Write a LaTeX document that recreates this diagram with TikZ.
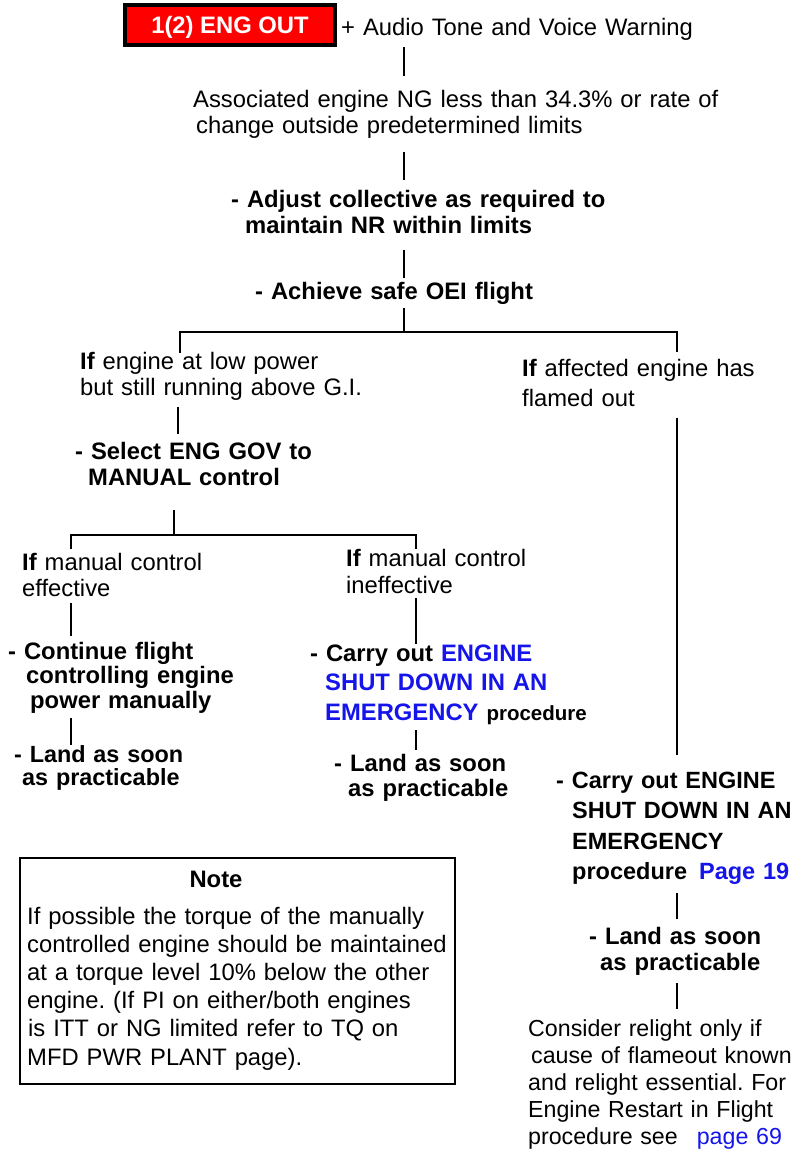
\documentclass[tikz,border=0pt]{standalone}
\usepackage{fontspec}
\setmainfont{Liberation Sans}
\usetikzlibrary{calc}
\definecolor{warnred}{RGB}{255,0,0}
\definecolor{linkblue}{RGB}{20,20,235}
\newcommand\fsz[1]{\fontsize{23.8}{#1}\selectfont}
\frenchspacing
\begin{document}
\begin{tikzpicture}[x=1pt,y=-1pt,
  txt/.style={anchor=base west, inner sep=0pt, text width=600pt, align=left},
  conn/.style={line width=1.8pt, line cap=butt},
  lnk/.style={text=linkblue}]
\fill[white] (0,0) rectangle (795,1151);
\useasboundingbox (0,0) rectangle (795,1151);

% column positions of the vertical connectors
\coordinate (colA) at (404,0);
\coordinate (colL) at (180,0);
\coordinate (colLb) at (178,0);
\coordinate (colR) at (677,0);
\coordinate (colG) at (174,0);
\coordinate (colLL) at (71,0);
\coordinate (colMM) at (416,0);

% junctions
\coordinate (j1) at (404,332);
\coordinate (j1L) at (180,332);
\coordinate (j1R) at (677,332);
\coordinate (j2) at (174,535);
\coordinate (j2L) at (71,535);
\coordinate (j2R) at (416,535);

% warning caption
\node[draw=black, fill=warnred, line width=4.5pt, minimum width=210pt,
      minimum height=40pt, inner sep=0pt, text height=17pt, text depth=0pt,
      text=white, font=\fsz{26}\bfseries]
      (alert) at (230,25) {1(2) ENG OUT};
\node[txt, font=\fsz{26}] (warn) at (341,35) {+ Audio Tone and Voice Warning};

\node[txt, font=\fsz{26}] (assoc) at (193,107)
  {Associated engine NG less than 34.3\% or rate of\\\hspace*{3pt}change outside predetermined limits};
\node[txt, font=\fsz{26}\bfseries] (adjust) at (231,207)
  {- Adjust collective as required to\\\hspace*{14pt}maintain NR within limits};
\node[txt, font=\fsz{26}\bfseries] (oei) at (255,299) {- Achieve safe OEI flight};

% first branch
\node[txt, font=\fsz{26}] (low) at (80,369)
  {\textbf{If} engine at low power\\but still running above G.I.};
\node[txt, font=\fsz{30}] (flame) at (522,376)
  {\textbf{If} affected engine has\\flamed out};
\node[txt, font=\fsz{26}\bfseries] (gov) at (75,459)
  {- Select ENG GOV to\\\hspace*{13pt}MANUAL control};

% second branch
\node[txt, font=\fsz{26}] (eff) at (22,570) {\textbf{If} manual control\\effective};
\node[txt, font=\fsz{27}] (ineff) at (346,566) {\textbf{If} manual control\\ineffective};
\node[txt, font=\fsz{24.5}\bfseries] (cont) at (8,659)
  {- Continue flight\\\hspace*{18pt}controlling engine\\\hspace*{22pt}power manually};
\node[txt, font=\fsz{29.5}\bfseries] (shut1) at (310,661)
  {- Carry out \textcolor{linkblue}{ENGINE}\\\hspace*{15pt}\textcolor{linkblue}{SHUT DOWN IN AN}\\\hspace*{15pt}\textcolor{linkblue}{EMERGENCY} {\fontsize{20.5}{29.5}\selectfont procedure}};
\node[txt, font=\fontsize{23.4}{23}\selectfont\bfseries] (land1) at (14,762) {- Land as soon\\\hspace*{8pt}as practicable};
\node[txt, font=\fsz{25}\bfseries] (land2) at (334,771) {- Land as soon\\\hspace*{14pt}as practicable};

% flameout branch
\node[txt, font=\fontsize{23.5}{30.5}\selectfont\bfseries] (shut2) at (556,788)
  {- Carry out ENGINE\\\hspace*{16pt}SHUT DOWN IN AN\\\hspace*{16pt}EMERGENCY\\\hspace*{16pt}procedure\hspace{12pt}\textcolor{linkblue}{Page 19}};
\node[txt, font=\fsz{26}\bfseries] (land3) at (589,944) {- Land as soon\\\hspace*{11pt}as practicable};
\node[txt, font=\fontsize{23.2}{27.2}\selectfont] (relight) at (528,1036)
  {Consider relight only if\\\hspace*{3pt}cause of flameout known\\and relight essential. For\\Engine Restart in Flight\\procedure see\hspace{19pt}\textcolor{linkblue}{page 69}};

% note box
\node[draw=black, line width=2pt, minimum width=435pt, minimum height=226pt, inner sep=0pt]
  (note) at (237.5,971) {};
\node[anchor=base, inner sep=0pt, font=\fsz{26}\bfseries] (notetitle) at (216,887) {Note};
\node[txt, font=\fsz{28.2}] (notebody) at (27,924)
  {If possible the torque of the manually\\controlled engine should be maintained\\at a torque level 10\% below the other\\engine. (If PI on either/both engines\\\hspace*{1pt}is ITT or NG limited refer to TQ on\\MFD PWR PLANT page).};

% connectors
\draw[conn] ([yshift=-12pt]warn.base -| colA) -- ([yshift=31pt]assoc.base -| colA);
\draw[conn] ([yshift=-45pt]assoc.base -| colA) -- ([yshift=27pt]adjust.base -| colA);
\draw[conn] ([yshift=-43pt]adjust.base -| colA) -- ([yshift=21pt]oei.base -| colA);
\draw[conn] ([yshift=-9pt]oei.base -| colA) -- (j1);
\draw[conn] ([yshift=16pt]low.base -| colL) -- (j1L) -- (j1R) -- ([yshift=24pt]flame.base -| colR);
\draw[conn] ([yshift=-38pt]low.base -| colLb) -- ([yshift=25pt]gov.base -| colLb);
\draw[conn] ([yshift=-42pt]flame.base -| colR) -- ([yshift=33pt]shut2.base -| colR);
\draw[conn] ([yshift=-51pt]gov.base -| colG) -- (j2);
\draw[conn] ([yshift=21pt]eff.base -| colLL) -- (j2L) -- (j2R) -- ([yshift=17pt]ineff.base -| colMM);
\draw[conn] ([yshift=-33pt]eff.base -| colLL) -- ([yshift=23pt]cont.base -| colLL);
\draw[conn] ([yshift=-32pt]ineff.base -| colMM) -- ([yshift=17pt]shut1.base -| colMM);
\draw[conn] ([yshift=-59pt]cont.base -| colLL) -- ([yshift=17pt]land1.base -| colLL);
\draw[conn] ([yshift=-69pt]shut1.base -| colMM) -- ([yshift=21pt]land2.base -| colMM);
\draw[conn] ([yshift=-105pt]shut2.base -| colR) -- ([yshift=25pt]land3.base -| colR);
\draw[conn] ([yshift=-39pt]land3.base -| colR) -- ([yshift=27pt]relight.base -| colR);
\end{tikzpicture}
\end{document}
